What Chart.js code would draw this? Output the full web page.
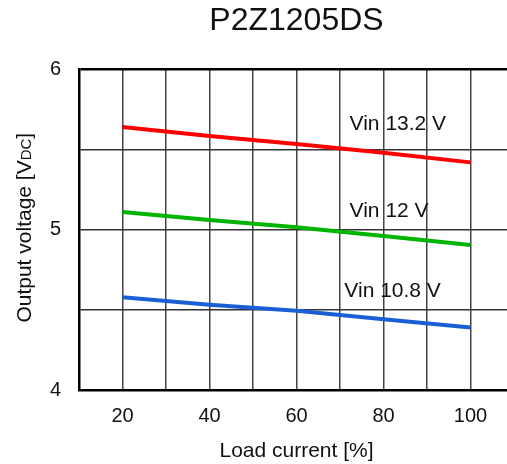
<!DOCTYPE html>
<html>
<head>
<meta charset="utf-8">
<script src="https://cdn.jsdelivr.net/npm/chart.js@4.4.1/dist/chart.umd.min.js"></script>
<style>
  html, body { margin: 0; padding: 0; overflow: hidden; background: #fff; }
  #wrap { position: relative; width: 528px; height: 464px; }
</style>
</head>
<body>
<div id="wrap"><canvas id="chart"></canvas></div>
<script>
const loadCurrent = [20, 40, 60, 80, 100]
const vin132 = [5.64, 5.585, 5.535, 5.48, 5.42]
const vin12 = [5.11, 5.06, 5.015, 4.96, 4.905]
const vin108 = [4.578, 4.532, 4.495, 4.442, 4.39]
const xTickLabels = [20, 40, 60, 80, 100]
const yTickLabels = [4, 5, 6]

// curve names and where they sit (data units)
const curveNames = ['Vin 13.2 V', 'Vin 12 V', 'Vin 10.8 V']
const nameX = [72.2, 72.2, 71.0]
const nameY = [5.657, 5.113, 4.617]

const FONT = "'Liberation Sans', Arial, sans-serif"

const toPoints = (vals) => loadCurrent.map((x, i) => ({ x, y: vals[i] }))

const makeSet = (label, vals, color) => ({
  label,
  data: toPoints(vals),
  borderColor: color,
  borderWidth: 4,
  pointRadius: 0,
  tension: 0,
  fill: false
})

const curveLabels = {
  id: 'curveLabels',
  afterDatasetsDraw(chart) {
    const { ctx, scales: { x, y } } = chart
    ctx.save()
    ctx.fillStyle = '#111'
    ctx.font = '21px ' + FONT
    ctx.textAlign = 'left'
    ctx.textBaseline = 'middle'
    curveNames.forEach((t, i) => {
      ctx.fillText(t, x.getPixelForValue(nameX[i]), y.getPixelForValue(nameY[i]))
    })
    ctx.restore()
  }
}

// y title with small "DC"
const yTitle = {
  id: 'yTitle',
  afterDraw(chart) {
    const { ctx, chartArea } = chart
    const main = 'Output voltage [V'
    const sub = 'DC'
    const end = ']'
    ctx.save()
    ctx.fillStyle = '#111'
    ctx.font = '21px ' + FONT
    const w1 = ctx.measureText(main).width
    const w3 = ctx.measureText(end).width
    ctx.font = '15px ' + FONT
    const w2 = ctx.measureText(sub).width
    const total = w1 + w2 + w3
    const cy = (chartArea.top + chartArea.bottom) / 2 - 2
    ctx.translate(31, cy)
    ctx.rotate(-Math.PI / 2)
    ctx.textBaseline = 'alphabetic'
    ctx.textAlign = 'left'
    let px = -total / 2
    ctx.font = '21px ' + FONT
    ctx.fillText(main, px, 0)
    px += w1
    ctx.font = '15px ' + FONT
    ctx.fillText(sub, px, 0)
    px += w2
    ctx.font = '21px ' + FONT
    ctx.fillText(end, px, 0)
    ctx.restore()
  }
}

const ctx = document.getElementById('chart').getContext('2d')

new Chart(ctx, {
  type: 'line',
  data: {
    datasets: [
      makeSet('Vin 13.2 V', vin132, '#ff0000'),
      makeSet('Vin 12 V', vin12, '#00b400'),
      makeSet('Vin 10.8 V', vin108, '#1c5fd4')
    ]
  },
  options: {
    responsive: true,
    maintainAspectRatio: false,
    animation: false,
    layout: { padding: { left: 0, right: 8, top: 0, bottom: 0 } },
    plugins: {
      legend: { display: false },
      tooltip: { enabled: false },
      title: {
        display: true,
        text: 'P2Z1205DS',
        fullSize: false,
        color: '#111',
        font: { size: 32, family: FONT, weight: 'normal' },
        padding: { top: 2, bottom: 29 }
      }
    },
    scales: {
      x: {
        type: 'linear',
        min: 10,
        max: 110,
        afterFit: (s) => { s.height = 74 },
        border: { color: '#000', width: 2.5 },
        grid: {
          color: '#444',
          lineWidth: 1.5,
          drawTicks: false
        },
        ticks: {
          stepSize: 10,
          padding: 14,
          color: '#111',
          font: { size: 20, family: FONT },
          callback: (v) => xTickLabels.includes(v) ? String(v) : ''
        },
        title: {
          display: true,
          text: 'Load current [%]',
          color: '#111',
          font: { size: 21, family: FONT },
          padding: { top: 0, bottom: 0 }
        }
      },
      y: {
        min: 4,
        max: 6,
        afterFit: (s) => { s.width = 79 },
        border: { color: '#000', width: 2.5 },
        grid: {
          color: (c) => c.tick && c.tick.value === 6 ? '#000' : '#333',
          lineWidth: (c) => c.tick && c.tick.value === 6 ? 2.5 : 1.5,
          drawTicks: false
        },
        ticks: {
          stepSize: 0.5,
          padding: 18,
          color: '#111',
          font: { size: 20, family: FONT },
          callback: (v) => yTickLabels.includes(v) ? String(v) : ''
        }
      }
    }
  },
  plugins: [curveLabels, yTitle]
})
</script>
</body>
</html>
